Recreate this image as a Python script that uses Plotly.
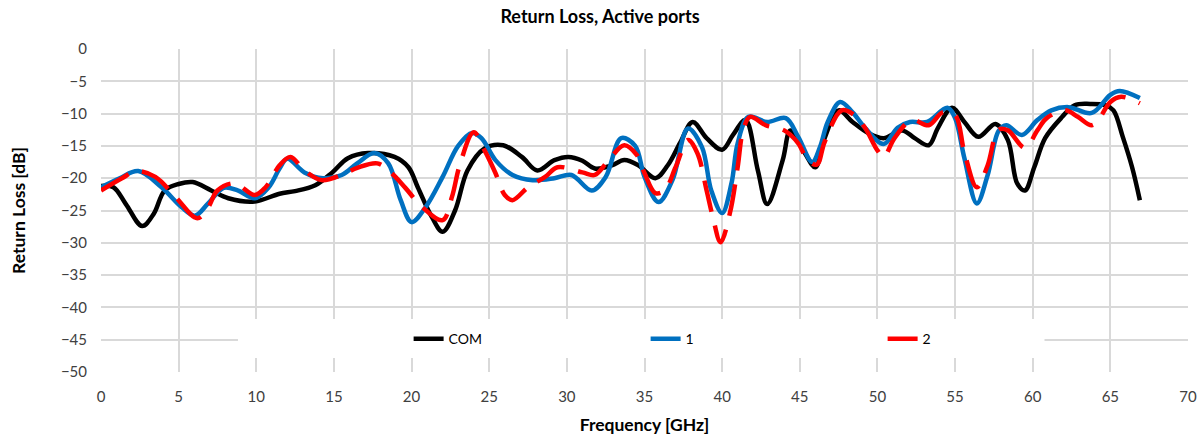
import plotly.graph_objects as go

# ---- data ----
com_freq = [0, 0.8, 1.6, 2.65, 3.4, 4.1, 5.0, 5.9, 7.1, 8.2, 9.9, 11.5, 12.5, 13.8, 14.9, 15.9, 17.2,
            18.9, 19.8, 20.4, 21.3, 22.0, 22.8, 23.6, 24.7, 25.9, 27.1, 28.1, 29.2, 30.1, 31.0,
            31.8, 32.9, 33.7, 34.6, 35.7, 36.5, 37.3, 38.1, 39.0, 40.0, 40.7, 41.5, 42.3, 42.9,
            43.9, 44.4, 45.3, 46.0, 46.6, 47.5, 48.4, 49.4, 50.4, 51.6, 52.4, 53.3, 53.9, 54.8,
            55.6, 56.5, 57.6, 58.4, 59.0, 59.5, 60.1, 60.8, 61.9, 62.7, 63.7, 64.7, 65.2, 65.8,
            66.4, 66.9]
com_db = [-21.2, -21.4, -24.0, -27.4, -25.5, -21.9, -20.9, -20.6, -21.9, -23.1, -23.6, -22.4, -22.0,
          -21.1, -19.1, -16.9, -16.1, -16.7, -18.3, -21.4, -26.0, -28.3, -25.0, -18.8, -15.4,
          -14.9, -16.7, -18.8, -17.2, -16.7, -17.3, -18.5, -18.0, -17.2, -18.0, -20.0, -18.0,
          -14.5, -11.3, -13.8, -15.6, -13.3, -11.0, -18.8, -24.0, -17.2, -12.6, -16.0, -18.3,
          -13.8, -9.5, -11.3, -13.0, -13.8, -12.6, -13.8, -14.9, -12.2, -9.1, -11.3, -13.6,
          -11.6, -14.1, -20.8, -21.9, -18.3, -13.8, -10.5, -8.7, -8.5, -8.7, -9.5, -13.6,
          -18.3, -23.4]

p1_freq = [0, 1.2, 2.4, 3.9, 5.2, 6.05, 6.9, 7.9, 8.8, 9.9, 10.8, 11.5, 12.0, 13.1, 14.3, 15.5, 16.5,
           17.6, 18.5, 19.3, 20.0, 20.9, 22.0, 23.0, 23.9, 24.5, 25.4, 26.5, 27.8, 29.2, 30.3,
           31.6, 32.5, 33.5, 34.4, 35.0, 35.9, 36.8, 37.8, 38.7, 39.3, 40.0, 40.6, 41.0, 41.7,
           42.9, 44.1, 44.9, 45.8, 46.3, 46.8, 47.6, 48.4, 49.2, 50.4, 51.3, 52.1, 53.2, 54.5,
           55.0, 55.6, 56.4, 57.1, 57.8, 58.3, 59.3, 60.3, 61.2, 62.3, 63.8, 65.0, 65.6, 66.9]
p1_db = [-21.4, -20.0, -18.9, -21.4, -24.5, -25.8, -23.9, -21.5, -21.9, -23.1, -21.4, -18.5, -17.0,
         -19.1, -20.0, -19.5, -17.7, -16.1, -17.7, -23.4, -26.8, -24.5, -19.8, -15.0, -13.0,
         -13.8, -17.2, -19.5, -20.3, -20.0, -19.5, -21.9, -19.8, -13.8, -15.0, -19.8, -23.7,
         -20.3, -12.3, -15.2, -21.9, -25.4, -20.8, -14.6, -10.5, -11.3, -10.7, -13.6, -17.5,
         -15.2, -11.3, -8.2, -9.8, -12.2, -14.7, -12.2, -11.3, -11.3, -9.1, -10.7, -16.9,
         -23.9, -19.5, -12.7, -11.8, -13.3, -11.0, -9.5, -9.0, -9.9, -7.1, -6.5, -7.6]

p2_freq = [0, 1.35, 2.3, 3.5, 4.8, 6.2, 6.9, 7.5, 8.6, 9.9, 10.6, 11.5, 12.2, 13.1, 14.2, 15.5, 16.5,
           17.8, 18.7, 19.6, 20.7, 22.0, 22.6, 23.1, 24.0, 24.7, 25.4, 26.0, 26.5, 27.5, 28.6,
           29.4, 31.0, 31.8, 32.6, 33.7, 34.5, 35.0, 35.7, 36.3, 37.0, 37.8, 38.4, 39.0, 39.4,
           39.9, 40.5, 41.0, 41.35, 41.8, 42.8, 44.0, 44.9, 45.5, 46.1, 46.6, 47.7, 48.5, 49.2,
           50.0, 50.4, 51.1, 52.2, 53.3, 54.2, 55.0, 55.6, 56.4, 57.1, 57.8, 58.4, 59.5, 60.3,
           60.9, 62.1, 62.9, 63.8, 64.3, 65.0, 65.7, 66.9]
p2_db = [-21.9, -20.0, -18.9, -19.8, -22.9, -26.2, -24.5, -21.9, -20.8, -22.6, -21.4, -18.0, -16.7,
         -18.8, -20.3, -19.5, -18.4, -17.7, -19.2, -21.5, -24.5, -26.5, -22.9, -18.0, -12.9,
         -15.7, -19.2, -22.6, -23.4, -21.4, -19.8, -18.3, -19.1, -19.5, -17.5, -14.9, -16.4,
         -19.2, -22.3, -21.9, -18.3, -14.1, -16.1, -21.9, -26.0, -29.9, -25.4, -18.3, -12.6,
         -10.5, -11.8, -12.6, -14.6, -17.2, -17.9, -14.4, -9.5, -10.2, -12.2, -15.7, -16.7,
         -13.8, -11.0, -11.8, -9.8, -10.2, -16.0, -21.4, -18.0, -12.5, -12.6, -15.3, -12.6,
         -10.7, -9.5, -10.5, -11.8, -10.7, -8.2, -7.4, -8.4]

series_names = ["COM", "1", "2"]
series_colors = ["#000000", "#0070C0", "#FF0000"]

x_ticks = list(range(0, 71, 5))
y_ticks = list(range(0, -51, -5))

FONT = "Lato"

fig = go.Figure()
fig.add_trace(go.Scatter(x=com_freq, y=com_db, name=series_names[0], mode="lines",
                         line=dict(color=series_colors[0], width=4.5, shape="spline", smoothing=1)))
fig.add_trace(go.Scatter(x=p1_freq, y=p1_db, name=series_names[1], mode="lines",
                         line=dict(color=series_colors[1], width=4.5, shape="spline", smoothing=1)))
fig.add_trace(go.Scatter(x=p2_freq, y=p2_db, name=series_names[2], mode="lines",
                         line=dict(color=series_colors[2], width=4.5, shape="spline", smoothing=1,
                                   dash="32px,14px")))

fig.update_layout(
    width=1200, height=438,
    margin=dict(l=101, r=12, t=49, b=66),
    paper_bgcolor="white", plot_bgcolor="white",
    font=dict(family=FONT, color="#404040"),
    title=dict(text="<b>Return Loss, Active ports</b>", x=0.5, xanchor="center",
               y=1 - 17 / 438, yanchor="middle",
               font=dict(family=FONT, size=18, color="#000000")),
    showlegend=True,
    legend=dict(orientation="h", bgcolor="rgba(0,0,0,0)", borderwidth=0,
                font=dict(family=FONT, size=14, color="#000000"),
                x=0.283, xanchor="left", y=0.102, yanchor="middle",
                entrywidth=192, entrywidthmode="pixels", traceorder="normal"),
    shapes=[dict(type="rect", xref="paper", yref="paper",
                 x0=0.126, x1=0.868, y0=0.043, y1=0.164,
                 fillcolor="white", line=dict(width=0), layer="above")],
)

fig.update_xaxes(range=[0, 70], tickvals=x_ticks, showgrid=True, gridcolor="#d9d9d9", gridwidth=1.5,
                 zeroline=False, showline=False, ticks="", automargin=False, ticklabelstandoff=14,
                 tickfont=dict(family=FONT, size=15, color="#404040"),
                 title=dict(text="<b>Frequency [GHz]</b>", standoff=14,
                            font=dict(family=FONT, size=17.5, color="#000000")))
fig.update_yaxes(range=[-50, 0], tickvals=y_ticks, showgrid=True, gridcolor="#d9d9d9", gridwidth=1.5,
                 zeroline=False, showline=False, ticks="", automargin=False, ticklabelstandoff=13,
                 tickfont=dict(family=FONT, size=15, color="#404040"),
                 title=dict(text="<b>Return Loss [dB]</b>", standoff=30,
                            font=dict(family=FONT, size=17.5, color="#000000")))

fig.write_html("out.html", config={"displayModeBar": False},
               post_script="document.body.style.margin='0';")
